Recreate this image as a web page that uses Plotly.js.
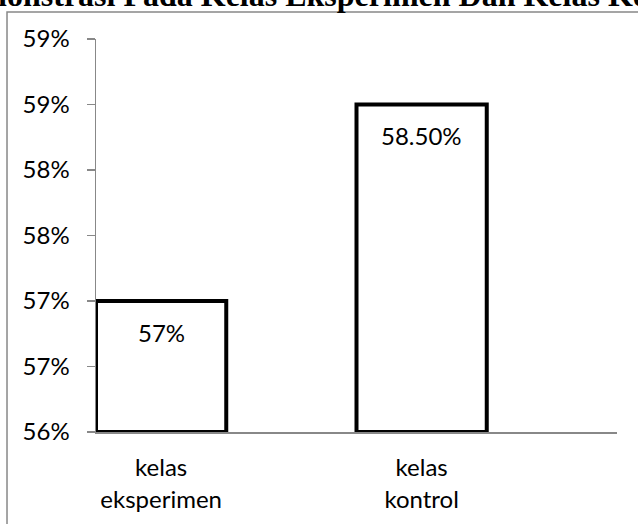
<!DOCTYPE html>
<html>
<head>
<meta charset="utf-8">
<script src="https://cdn.plot.ly/plotly-3.0.1.min.js"></script>
<style>html,body{margin:0;padding:0;background:#fff;}</style>
</head>
<body>
<div id="chart" style="width:638px;height:524px;"></div>
<script>
// Data
const categories = ["kelas<br>eksperimen", "kelas<br>kontrol"];
const categoryPos = [0, 2];
const values = [57.0, 58.5];
const valueLabels = ["57%", "58.50%"];
const yTickVals = [56, 56.5, 57, 57.5, 58, 58.5, 59];
const yTickText = ["56%", "57%", "57%", "58%", "58%", "59%", "59%"];
const titleText = "Demonstrasi Pada Kelas Eksperimen Dan Kelas Kontrol";

const axisGray = "#888888";
const labelFont = {family: "Lato, 'Open Sans', sans-serif", size: 24, color: "#000"};

const trace = {
  type: "bar",
  x: categoryPos,
  y: values,
  base: 56,
  width: 1,
  marker: {color: "#ffffff", line: {color: "#000000", width: 4}},
  hoverinfo: "none"
};
// bars start at 56 -> plot heights relative to base
trace.y = values.map(v => v - 56);

const annotations = values.map((v, i) => ({
  x: categoryPos[i], y: v, xref: "x", yref: "y",
  text: valueLabels[i], showarrow: false,
  yshift: -31, font: labelFont
}));
annotations.push({
  xref: "paper", yref: "paper", x: -0.2975, y: 1.061,
  xanchor: "left", yanchor: "bottom", showarrow: false,
  text: titleText,
  font: {family: "'Liberation Serif', 'Times New Roman', serif", size: 32, weight: "bold", color: "#000"}
});

const layout = {
  width: 638, height: 524,
  margin: {l: 96, r: 21, t: 39, b: 92, pad: 0},
  paper_bgcolor: "#fff", plot_bgcolor: "#fff",
  showlegend: false,
  bargap: 0,
  xaxis: {
    range: [-0.5, 3.5], tickvals: categoryPos, ticktext: categories,
    showgrid: false, zeroline: false, showline: true, linecolor: axisGray, linewidth: 1.5,
    ticks: "", tickfont: labelFont, ticklabelstandoff: 14, fixedrange: true
  },
  yaxis: {
    range: [56, 59], tickvals: yTickVals, ticktext: yTickText,
    showgrid: false, zeroline: false, showline: true, linecolor: axisGray, linewidth: 1.5,
    ticks: "outside", ticklen: 8, tickcolor: axisGray, tickwidth: 1.5,
    tickfont: labelFont, ticklabelstandoff: 12, fixedrange: true
  },
  annotations: annotations,
  shapes: [{
    type: "rect", xref: "paper", yref: "paper",
    x0: -0.1708, x1: 1.3, y0: -0.5, y1: 1.0687,
    line: {color: axisGray, width: 1.5}, fillcolor: "rgba(0,0,0,0)", layer: "below"
  }]
};

// adjust y values to be absolute with base
trace.y = values.map(v => v - 56);
Plotly.newPlot("chart", [trace], layout, {displayModeBar: false, staticPlot: true});
</script>
</body>
</html>
